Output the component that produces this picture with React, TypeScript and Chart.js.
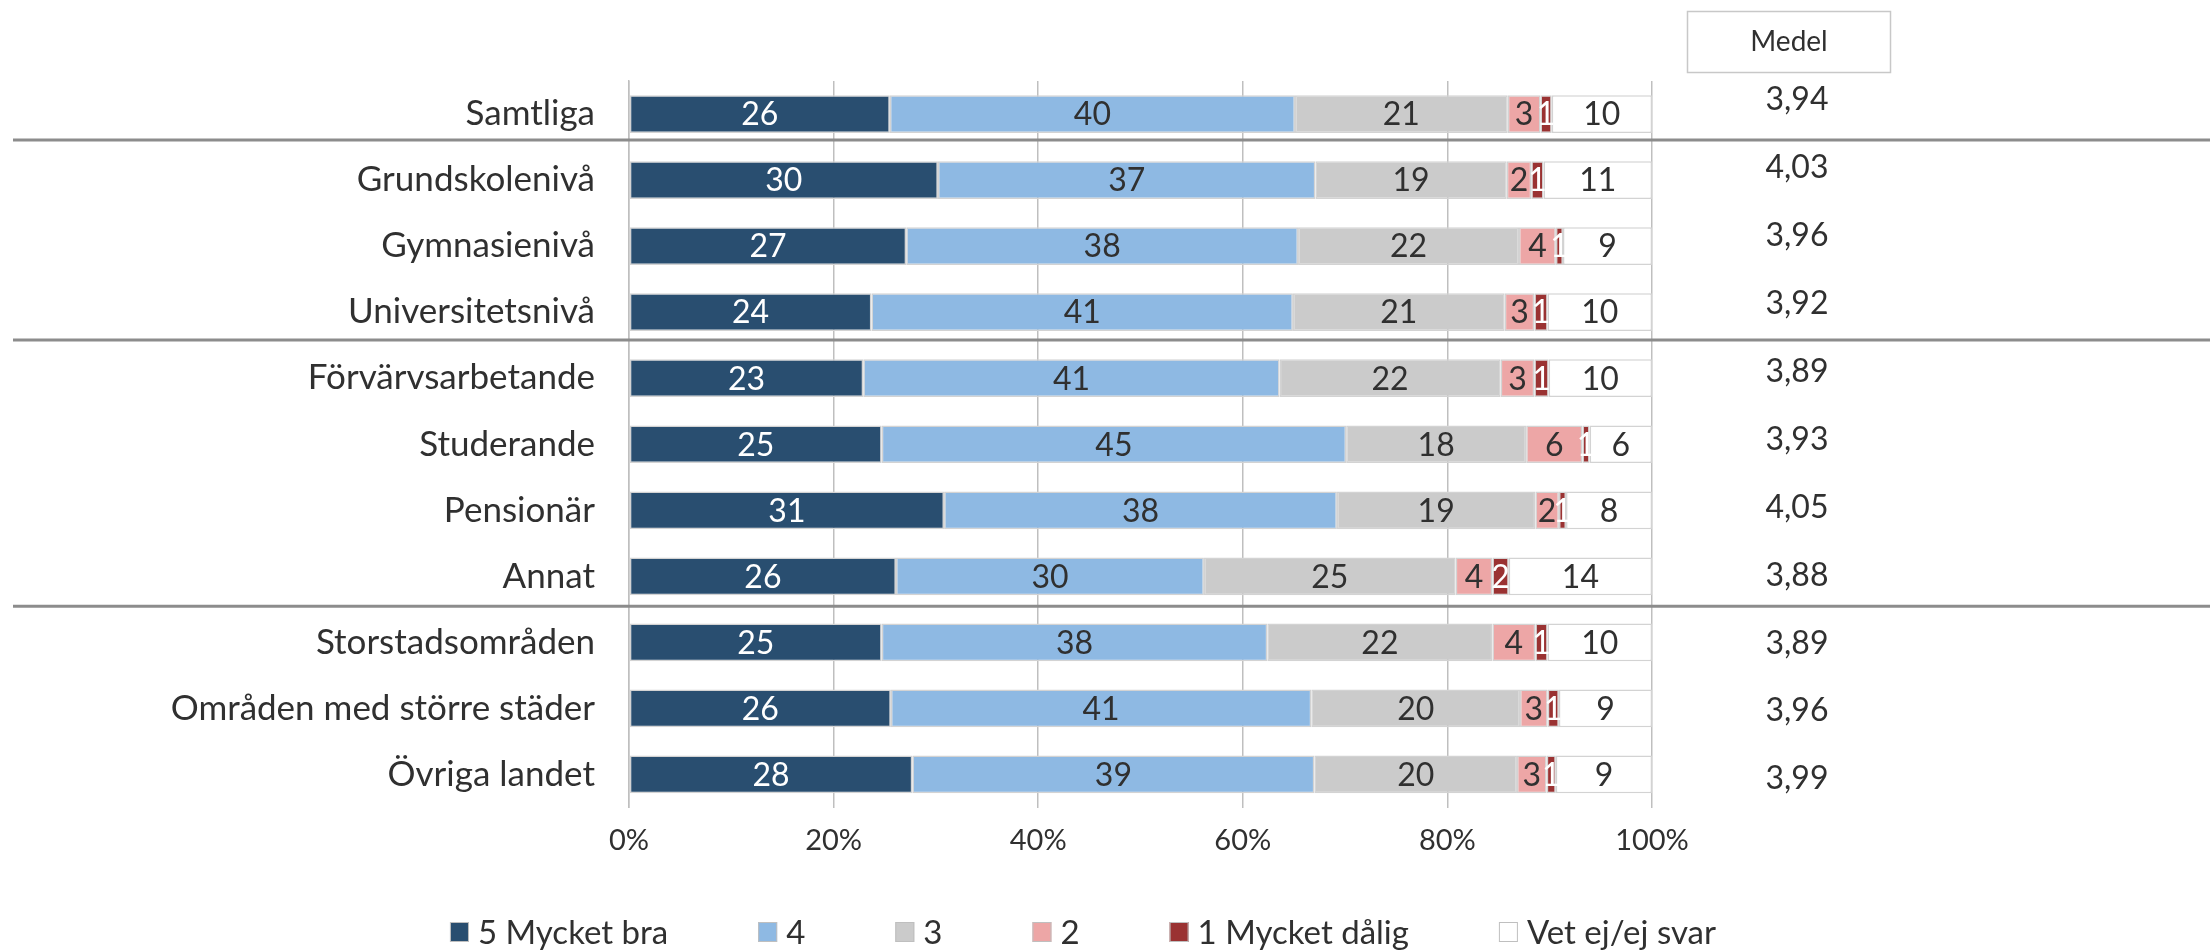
import React, { useEffect, useRef } from "react";
import { Chart, registerables } from "chart.js";

Chart.register(...registerables);

// ---------- data ----------
const categories = [
  "Samtliga",
  "Grundskolenivå",
  "Gymnasienivå",
  "Universitetsnivå",
  "Förvärvsarbetande",
  "Studerande",
  "Pensionär",
  "Annat",
  "Storstadsområden",
  "Områden med större städer",
  "Övriga landet",
];

const seriesNames = ["5 Mycket bra", "4", "3", "2", "1 Mycket dålig", "Vet ej/ej svar"];

const s5 = [25.5, 30.2, 27.1, 23.7, 22.9, 24.7, 30.8, 26.1, 24.7, 25.6, 27.7];
const s4 = [39.6, 36.9, 38.3, 41.2, 40.7, 45.4, 38.4, 30.1, 37.7, 41.1, 39.3];
const s3 = [20.8, 18.7, 21.6, 20.7, 21.6, 17.6, 19.4, 24.6, 22.0, 20.4, 19.8];
const s2 = [3.2, 2.4, 3.6, 2.9, 3.3, 5.5, 2.3, 3.6, 4.2, 2.7, 2.9];
const s1 = [1.1, 1.2, 0.7, 1.3, 1.4, 0.7, 0.7, 1.6, 1.2, 1.1, 0.9];
const sVet = [9.8, 10.6, 8.7, 10.2, 10.1, 6.1, 8.4, 14.0, 10.2, 9.1, 9.4];

const medel = [3.94, 4.03, 3.96, 3.92, 3.89, 3.93, 4.05, 3.88, 3.89, 3.96, 3.99];
const medelTitle = "Medel";

const separatorAfter = [0, 3, 7];

const xTicks = [0, 20, 40, 60, 80, 100];

// ---------- styles ----------
const FONT = "Lato";
const TEXT = "#303030";
const fillColors = ["#294E70", "#8EB9E3", "#CBCBCB", "#EDA6A6", "#9A3232", "#FFFFFF"];
const labelColors = ["#FFFFFF", TEXT, TEXT, TEXT, "#FFFFFF", TEXT];

const seriesData = [s5, s4, s3, s2, s1, sVet];

const overlayPlugin = {
  id: "overlay",
  afterDatasetsDraw(chart: any) {
    const ctx = chart.ctx;
    ctx.save();
    ctx.font = `32px ${FONT}`;
    ctx.textAlign = "center";
    ctx.textBaseline = "middle";
    chart.data.datasets.forEach((ds: any, di: number) => {
      const meta = chart.getDatasetMeta(di);
      meta.data.forEach((bar: any, i: number) => {
        const v = ds.data[i] as number;
        const p = bar.getProps(["x", "base", "y"], true);
        const cx = (p.x + p.base) / 2;
        ctx.fillStyle = labelColors[di];
        ctx.fillText(String(Math.round(v)), cx, p.y + 1);
      });
    });
    ctx.restore();
  },
  afterDraw(chart: any) {
    const ctx = chart.ctx;
    const yScale = chart.scales.y;
    const W = chart.width;
    ctx.save();

    // group separators
    ctx.strokeStyle = "#8C8C8C";
    ctx.lineWidth = 3;
    separatorAfter.forEach((i) => {
      const y = yScale.getPixelForValue(i + 0.5) - 7 + 0.57 * i;
      ctx.beginPath();
      ctx.moveTo(13, y);
      ctx.lineTo(W, y);
      ctx.stroke();
    });

    // Medel header box
    ctx.strokeStyle = "#C8C8C8";
    ctx.lineWidth = 1.5;
    ctx.strokeRect(1687.5, 11.5, 203, 61);
    ctx.fillStyle = TEXT;
    ctx.font = `28px ${FONT}`;
    ctx.textAlign = "center";
    ctx.textBaseline = "middle";
    ctx.fillText(medelTitle, 1789, 42);

    // Medel values
    ctx.font = `32px ${FONT}`;
    medel.forEach((m, i) => {
      ctx.fillText(m.toFixed(2).replace(".", ","), 1797, 100 + i * 67.9);
    });

    // legend
    ctx.font = `33px ${FONT}`;
    ctx.textAlign = "left";
    const boxW = 19, boxH = 20, gap = 9, itemGap = 90;
    const widths = chart.data.datasets.map((ds: any) => boxW + gap + ctx.measureText(ds.label).width);
    const total = widths.reduce((a: number, b: number) => a + b, 0) + itemGap * (widths.length - 1);
    let x = 1083 - total / 2;
    const ly = 932;
    chart.data.datasets.forEach((ds: any, di: number) => {
      ctx.fillStyle = ds.backgroundColor;
      ctx.fillRect(x, ly - boxH / 2, boxW, boxH);
      ctx.strokeStyle = "#BFBFBF";
      ctx.lineWidth = 1;
      ctx.strokeRect(x + 0.5, ly - boxH / 2 + 0.5, boxW - 1, boxH - 1);
      ctx.fillStyle = TEXT;
      ctx.fillText(ds.label, x + boxW + gap, ly + 1);
      x += widths[di] + itemGap;
    });

    ctx.restore();
  },
};

export default function App() {
  const canvasRef = useRef<HTMLCanvasElement | null>(null);

  useEffect(() => {
    document.body.style.margin = "0";
    const canvas = canvasRef.current;
    if (!canvas) return;
    const chart = new Chart(canvas, {
      type: "bar",
      data: {
        labels: categories,
        datasets: seriesNames.map((name, i) => ({
          label: name,
          data: seriesData[i],
          backgroundColor: fillColors[i],
          borderColor: "#D3D3D3",
          borderWidth: 1.5,
          borderSkipped: false,
          barPercentage: 0.571,
          categoryPercentage: 1,
        })),
      },
      options: {
        indexAxis: "y",
        animation: false,
        responsive: false,
        devicePixelRatio: 1,
        layout: { padding: { top: 81, right: 558, bottom: 0, left: 0 } },
        plugins: {
          legend: { display: false },
          tooltip: { enabled: false },
        },
        scales: {
          x: {
            stacked: true,
            min: 0,
            max: 100,
            afterBuildTicks(scale: any) {
              scale.ticks = xTicks.map((v) => ({ value: v }));
            },
            afterFit(scale: any) {
              scale.height = 143.5;
            },
            ticks: {
              padding: 16,
              color: TEXT,
              font: { family: FONT, size: 29 },
              callback: (v: any) => v + "%",
            },
            grid: {
              color: "#BFBFBF",
              lineWidth: 1.5,
              drawTicks: false,
            },
            border: { display: false },
          },
          y: {
            stacked: true,
            afterFit(scale: any) {
              scale.width = 629;
            },
            ticks: {
              padding: 34,
              color: TEXT,
              font: { family: FONT, size: 35 },
            },
            grid: { display: false, drawTicks: false },
            border: { display: true, color: "#BFBFBF", width: 1.5 },
          },
        },
      },
      plugins: [overlayPlugin],
    });
    return () => chart.destroy();
  }, []);

  return <canvas ref={canvasRef} width={2210} height={951} style={{ display: "block" }} />;
}
